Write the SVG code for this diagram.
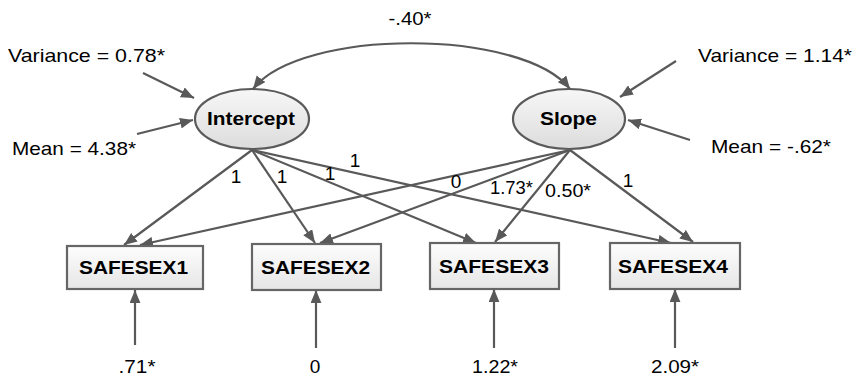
<svg xmlns="http://www.w3.org/2000/svg" width="853" height="380" viewBox="0 0 853 380">
<style>
text{font-family:"Liberation Sans",Arial,sans-serif;fill:#000;font-size:19px}
.b{font-weight:bold;font-size:18px}
.m{text-anchor:middle}
.ln{stroke:#595959;stroke-width:2.2;fill:none;marker-end:url(#ah)}
.ell{fill:url(#ge);stroke:#5a5a5a;stroke-width:2.2}
.box{fill:url(#gb);stroke:#666;stroke-width:2.2}
</style>
<defs>
<marker id="ah" viewBox="0 0 12 10" refX="12" refY="5" markerWidth="13" markerHeight="11" markerUnits="userSpaceOnUse" orient="auto-start-reverse">
<path d="M0,0 L12,5 L0,10 z" fill="#595959"/>
</marker>
<linearGradient id="ge" x1="0" y1="0" x2="0" y2="1"><stop offset="0" stop-color="#f7f7f7"/><stop offset="1" stop-color="#dcdcdc"/></linearGradient>
<linearGradient id="gb" x1="0" y1="0" x2="0" y2="1"><stop offset="0" stop-color="#fdfdfd"/><stop offset="1" stop-color="#e6e6e6"/></linearGradient>
</defs>
<g id="connectors">
<path class="ln" style="marker-start:url(#ah)" d="M253,89 C300,28 522,28 570,89"/>
<line class="ln" x1="143" y1="73" x2="194" y2="98"/>
<line class="ln" x1="137" y1="134" x2="193" y2="120"/>
<line class="ln" x1="676" y1="61" x2="620" y2="97"/>
<line class="ln" x1="690" y1="140" x2="628" y2="120"/>
<line class="ln" x1="252" y1="150" x2="124" y2="245"/>
<line class="ln" x1="252" y1="150" x2="315" y2="243"/>
<line class="ln" x1="252" y1="150" x2="476" y2="243"/>
<line class="ln" x1="252" y1="150" x2="671" y2="243"/>
<line class="ln" x1="570" y1="150" x2="140" y2="245"/>
<line class="ln" x1="570" y1="150" x2="320" y2="243"/>
<line class="ln" x1="570" y1="150" x2="495" y2="242"/>
<line class="ln" x1="570" y1="150" x2="693" y2="242"/>
<line class="ln" x1="135" y1="345" x2="135" y2="290"/>
<line class="ln" x1="316" y1="348" x2="316" y2="290"/>
<line class="ln" x1="494" y1="348" x2="494" y2="289"/>
<line class="ln" x1="675" y1="348" x2="675" y2="289"/>
</g>
<g id="intercept"><ellipse class="ell" cx="252" cy="119" rx="57" ry="30"/><text class="b m" x="251" y="125" textLength="88" lengthAdjust="spacingAndGlyphs">Intercept</text></g>
<g id="slope"><ellipse class="ell" cx="569" cy="119" rx="56" ry="30"/><text class="b m" x="568.5" y="125" textLength="57" lengthAdjust="spacingAndGlyphs">Slope</text></g>
<g id="safesex1"><rect class="box" x="67" y="246" width="136" height="43"/><text class="b m" x="133.5" y="274" textLength="109" lengthAdjust="spacingAndGlyphs">SAFESEX1</text></g>
<g id="safesex2"><rect class="box" x="252" y="244" width="129" height="46"/><text class="b m" x="315.5" y="274" textLength="109" lengthAdjust="spacingAndGlyphs">SAFESEX2</text></g>
<g id="safesex3"><rect class="box" x="430" y="243" width="129" height="46"/><text class="b m" x="494" y="273" textLength="110" lengthAdjust="spacingAndGlyphs">SAFESEX3</text></g>
<g id="safesex4"><rect class="box" x="610" y="243" width="130" height="46"/><text class="b m" x="673" y="273" textLength="110" lengthAdjust="spacingAndGlyphs">SAFESEX4</text></g>
<g id="labels">
<text class="m" x="410" y="25" textLength="43" lengthAdjust="spacingAndGlyphs">-.40*</text>
<text x="8" y="62" textLength="157" lengthAdjust="spacingAndGlyphs">Variance = 0.78*</text>
<text x="12" y="155" textLength="124" lengthAdjust="spacingAndGlyphs">Mean = 4.38*</text>
<text x="698" y="62" textLength="154" lengthAdjust="spacingAndGlyphs">Variance = 1.14*</text>
<text x="711" y="153" textLength="120" lengthAdjust="spacingAndGlyphs">Mean = -.62*</text>
<text class="m" x="236" y="183">1</text>
<text class="m" x="282" y="183">1</text>
<text class="m" x="330" y="180">1</text>
<text class="m" x="355" y="167">1</text>
<text class="m" x="456" y="188">0</text>
<text x="490" y="194" textLength="43" lengthAdjust="spacingAndGlyphs">1.73*</text>
<text x="545" y="197" textLength="46" lengthAdjust="spacingAndGlyphs">0.50*</text>
<text class="m" x="628" y="187">1</text>
<text class="m" x="137" y="373" textLength="37" lengthAdjust="spacingAndGlyphs">.71*</text>
<text class="m" x="315" y="373">0</text>
<text class="m" x="495" y="373" textLength="46" lengthAdjust="spacingAndGlyphs">1.22*</text>
<text class="m" x="675" y="373" textLength="48" lengthAdjust="spacingAndGlyphs">2.09*</text>
</g>
</svg>
